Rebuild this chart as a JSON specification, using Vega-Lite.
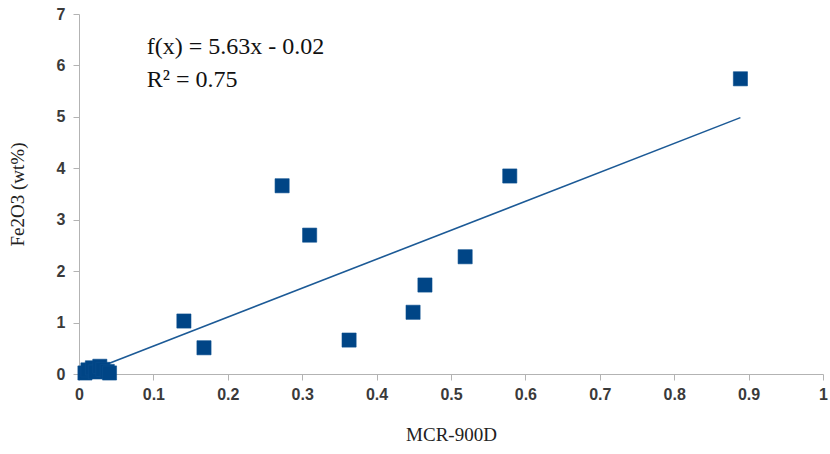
{
  "$schema": "https://vega.github.io/schema/vega-lite/v6.json",
  "width": 744,
  "height": 360,
  "autosize": {"type": "none"},
  "padding": {"left": 79, "top": 14, "right": 7, "bottom": 80},
  "background": "white",
  "config": {
    "view": {"stroke": null},
    "axis": {
      "grid": false,
      "domainColor": "#b3b3b3",
      "tickColor": "#b3b3b3",
      "tickSize": 6,
      "labelFlush": false,
      "labelFont": "Liberation Sans",
      "labelFontSize": 16,
      "labelFontWeight": "bold",
      "labelColor": "#3a3a3a",
      "titleFont": "Liberation Serif",
      "titleFontSize": 19,
      "titleFontWeight": "normal",
      "titleColor": "#222222"
    }
  },
  "datasets": {
    "samples": [
      {"mcr": 0.008, "fe2o3": 0.02},
      {"mcr": 0.012, "fe2o3": 0.08},
      {"mcr": 0.018, "fe2o3": 0.12},
      {"mcr": 0.022, "fe2o3": 0.04},
      {"mcr": 0.028, "fe2o3": 0.15},
      {"mcr": 0.032, "fe2o3": 0.09},
      {"mcr": 0.038, "fe2o3": 0.05},
      {"mcr": 0.041, "fe2o3": 0.02},
      {"mcr": 0.141, "fe2o3": 1.03},
      {"mcr": 0.168, "fe2o3": 0.51},
      {"mcr": 0.273, "fe2o3": 3.66},
      {"mcr": 0.31, "fe2o3": 2.7},
      {"mcr": 0.363, "fe2o3": 0.66},
      {"mcr": 0.449, "fe2o3": 1.2},
      {"mcr": 0.465, "fe2o3": 1.73},
      {"mcr": 0.519, "fe2o3": 2.28},
      {"mcr": 0.579, "fe2o3": 3.85},
      {"mcr": 0.889, "fe2o3": 5.74}
    ],
    "trend": [
      {"mcr": 0.008, "fe2o3": 0.025},
      {"mcr": 0.889, "fe2o3": 4.985}
    ],
    "equation": [
      {"label": "f(x) = 5.63x - 0.02", "mcr": 0.091, "fe2o3": 6.36},
      {"label": "R² = 0.75", "mcr": 0.091, "fe2o3": 5.72}
    ]
  },
  "encoding": {
    "x": {"field": "mcr", "type": "quantitative",
          "scale": {"domain": [0, 1], "padding": 0, "nice": false, "zero": false},
          "axis": {"values": [0, 0.1, 0.2, 0.3, 0.4, 0.5, 0.6, 0.7, 0.8, 0.9, 1], "format": "~g", "title": "MCR-900D", "labelPadding": 6, "titlePadding": 23}},
    "y": {"field": "fe2o3", "type": "quantitative",
          "scale": {"domain": [0, 7], "padding": 0, "nice": false},
          "axis": {"values": [0, 1, 2, 3, 4, 5, 6, 7], "title": "Fe2O3 (wt%)", "labelPadding": 8, "titlePadding": 29}}
  },
  "layer": [
    {
      "data": {"name": "trend"},
      "mark": {"type": "line", "color": "#1c5a96", "strokeWidth": 1.6}
    },
    {
      "data": {"name": "samples"},
      "mark": {"type": "square", "size": 200, "color": "#004586", "opacity": 1, "stroke": "#0a4f8f", "strokeWidth": 0.6}
    },
    {
      "data": {"name": "equation"},
      "mark": {"type": "text", "font": "Liberation Serif", "fontSize": 24, "align": "left", "baseline": "middle", "color": "#111111"},
      "encoding": {
        "text": {"field": "label"}
      }
    }
  ]
}
